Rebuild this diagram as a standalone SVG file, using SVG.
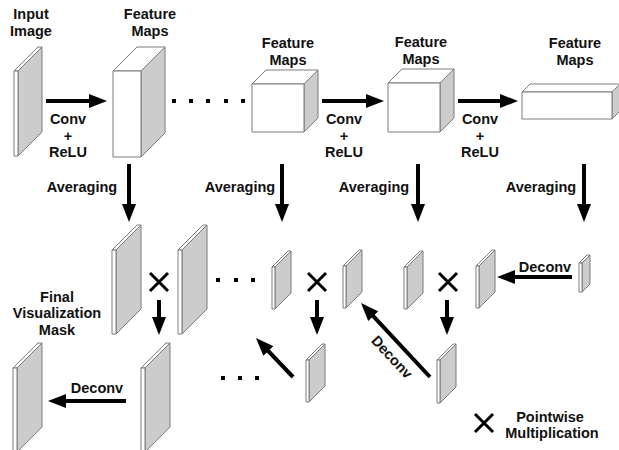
<svg xmlns="http://www.w3.org/2000/svg" width="619" height="450" viewBox="0 0 619 450">
  <style>
    .lbl { font-family: "Liberation Sans", Arial, sans-serif; font-weight: bold; font-size: 14.5px; fill: #111; text-anchor: middle; }
    .front, .top { fill: #ffffff; stroke: #7a7a7a; stroke-width: 1; stroke-linejoin: round; }
    .side { fill: #cccccc; stroke: #7a7a7a; stroke-width: 1; stroke-linejoin: round; }
    .arrow { stroke: #000; stroke-width: 4; fill: none; marker-end: url(#head); }
    .times { stroke: #000; stroke-width: 3; fill: none; }
    .dot { fill: #000; }
  </style>
  <defs>
    <marker id="head" markerUnits="userSpaceOnUse" markerWidth="18" markerHeight="14" refX="10" refY="7" orient="auto">
      <path d="M0,0 L18,7 L0,14 z" fill="#000"/>
    </marker>
  </defs>
  <rect width="619" height="450" fill="#ffffff"/>

  <!-- input image slab: front x14 w4, y71 h85, depth 24 -->
  <g id="input-image">
    <polygon class="side" points="18,71 42,47 42,132 18,156"/>
    <polygon class="top" points="14,71 38,47 42,47 18,71"/>
    <rect class="front" x="14" y="71" width="4" height="85"/>
    <text class="lbl" x="31" y="19">Input</text>
    <text class="lbl" x="31" y="36">Image</text>
  </g>

  <!-- feature map 1: front x113 w28, y71 h86, depth 24 -->
  <g id="feature-map-1">
    <polygon class="side" points="141,71 165,47 165,133 141,157"/>
    <polygon class="top" points="113,71 137,47 165,47 141,71"/>
    <rect class="front" x="113" y="71" width="28" height="86"/>
    <text class="lbl" x="150" y="19">Feature</text>
    <text class="lbl" x="150" y="36">Maps</text>
  </g>

  <!-- feature map 2: front x252 w52, y84 h48, depth 14 -->
  <g id="feature-map-2">
    <polygon class="side" points="304,84 318,70 318,118 304,132"/>
    <polygon class="top" points="252,84 266,70 318,70 304,84"/>
    <rect class="front" x="252" y="84" width="52" height="48"/>
    <text class="lbl" x="288" y="48">Feature</text>
    <text class="lbl" x="288" y="65">Maps</text>
  </g>

  <!-- feature map 3: front x388 w52, y83 h49, depth 14 -->
  <g id="feature-map-3">
    <polygon class="side" points="440,83 454,69 454,118 440,132"/>
    <polygon class="top" points="388,83 402,69 454,69 440,83"/>
    <rect class="front" x="388" y="83" width="52" height="49"/>
    <text class="lbl" x="421" y="47">Feature</text>
    <text class="lbl" x="421" y="64">Maps</text>
  </g>

  <!-- feature map 4: front x522 w90, y92 h27, depth 8 -->
  <g id="feature-map-4">
    <polygon class="side" points="612,92 620,84 620,111 612,119"/>
    <polygon class="top" points="522,92 530,84 620,84 612,92"/>
    <rect class="front" x="522" y="92" width="90" height="27"/>
    <text class="lbl" x="575" y="48">Feature</text>
    <text class="lbl" x="575" y="65">Maps</text>
  </g>

  <!-- averaged maps, middle row -->
  <g id="avg-map-a">
    <polygon class="side" points="116,250 141,225 141,309 116,334"/>
    <polygon class="top" points="112,250 137,225 141,225 116,250"/>
    <rect class="front" x="112" y="250" width="4" height="84"/>
  </g>
  <g id="upsampled-map-b">
    <polygon class="side" points="182,250 207,225 207,309 182,334"/>
    <polygon class="top" points="178,250 203,225 207,225 182,250"/>
    <rect class="front" x="178" y="250" width="4" height="84"/>
  </g>
  <g id="avg-map-c">
    <polygon class="side" points="275,267 291,251 291,293 275,309"/>
    <polygon class="top" points="272,267 288,251 291,251 275,267"/>
    <rect class="front" x="272" y="267" width="3" height="42"/>
  </g>
  <g id="upsampled-map-d">
    <polygon class="side" points="346,266 362,250 362,292 346,308"/>
    <polygon class="top" points="343,266 359,250 362,250 346,266"/>
    <rect class="front" x="343" y="266" width="3" height="42"/>
  </g>
  <g id="avg-map-e">
    <polygon class="side" points="407,267 423,251 423,293 407,309"/>
    <polygon class="top" points="404,267 420,251 423,251 407,267"/>
    <rect class="front" x="404" y="267" width="3" height="42"/>
  </g>
  <g id="upsampled-map-f">
    <polygon class="side" points="479,266 495,250 495,292 479,308"/>
    <polygon class="top" points="476,266 492,250 495,250 479,266"/>
    <rect class="front" x="476" y="266" width="3" height="42"/>
  </g>
  <g id="avg-map-g">
    <polygon class="side" points="582,263 590,255 590,284 582,292"/>
    <polygon class="top" points="579,263 587,255 590,255 582,263"/>
    <rect class="front" x="579" y="263" width="3" height="29"/>
  </g>

  <!-- product maps, lower row -->
  <g id="product-map-h">
    <polygon class="side" points="440,360 456,344 456,387 440,403"/>
    <polygon class="top" points="437,360 453,344 456,344 440,360"/>
    <rect class="front" x="437" y="360" width="3" height="43"/>
  </g>
  <g id="product-map-i">
    <polygon class="side" points="309,360 325,344 325,386 309,402"/>
    <polygon class="top" points="306,360 322,344 325,344 309,360"/>
    <rect class="front" x="306" y="360" width="3" height="42"/>
  </g>
  <g id="final-mask">
    <polygon class="side" points="17,368 42,343 42,427 17,452"/>
    <polygon class="top" points="13,368 38,343 42,343 17,368"/>
    <rect class="front" x="13" y="368" width="4" height="84"/>
    <text class="lbl" x="57" y="302">Final</text>
    <text class="lbl" x="57" y="318">Visualization</text>
    <text class="lbl" x="57" y="335">Mask</text>
  </g>
  <g id="product-map-k">
    <polygon class="side" points="145,368 170,343 170,427 145,452"/>
    <polygon class="top" points="141,368 166,343 170,343 145,368"/>
    <rect class="front" x="141" y="368" width="4" height="84"/>
  </g>

  <!-- pointwise multiplication signs -->
  <g id="multiply-1"><path class="times" d="M150,273 L168,291 M168,273 L150,291"/></g>
  <g id="multiply-2"><path class="times" d="M308,273 L326,291 M326,273 L308,291"/></g>
  <g id="multiply-3"><path class="times" d="M439,273 L457,291 M457,273 L439,291"/></g>

  <!-- ellipsis dots -->
  <g id="ellipsis-top">
    <rect class="dot" x="172" y="99" width="4" height="4"/>
    <rect class="dot" x="189" y="99" width="4" height="4"/>
    <rect class="dot" x="206" y="99" width="4" height="4"/>
    <rect class="dot" x="224" y="99" width="4" height="4"/>
    <rect class="dot" x="241" y="99" width="4" height="4"/>
  </g>
  <g id="ellipsis-middle">
    <rect class="dot" x="216" y="278" width="4" height="4"/>
    <rect class="dot" x="234" y="278" width="4" height="4"/>
    <rect class="dot" x="251" y="278" width="4" height="4"/>
  </g>
  <g id="ellipsis-bottom">
    <rect class="dot" x="221" y="376" width="4" height="4"/>
    <rect class="dot" x="238" y="376" width="4" height="4"/>
    <rect class="dot" x="255" y="376" width="4" height="4"/>
  </g>

  <!-- connectors -->
  <g id="connectors">
    <!-- conv + relu -->
    <line class="arrow" x1="46" y1="101" x2="99" y2="101"/>
    <line class="arrow" x1="322" y1="101" x2="376" y2="101"/>
    <line class="arrow" x1="458" y1="101" x2="510" y2="101"/>
    <text class="lbl" x="68" y="124">Conv</text>
    <text class="lbl" x="68" y="141">+</text>
    <text class="lbl" x="68" y="157">ReLU</text>
    <text class="lbl" x="344" y="124">Conv</text>
    <text class="lbl" x="344" y="141">+</text>
    <text class="lbl" x="344" y="157">ReLU</text>
    <text class="lbl" x="480" y="124">Conv</text>
    <text class="lbl" x="480" y="141">+</text>
    <text class="lbl" x="480" y="157">ReLU</text>

    <!-- averaging -->
    <line class="arrow" x1="129" y1="164" x2="129" y2="214"/>
    <line class="arrow" x1="282" y1="164" x2="282" y2="214"/>
    <line class="arrow" x1="418" y1="164" x2="418" y2="214"/>
    <line class="arrow" x1="584" y1="164" x2="584" y2="214"/>
    <text class="lbl" x="82" y="192">Averaging</text>
    <text class="lbl" x="240" y="192">Averaging</text>
    <text class="lbl" x="374" y="192">Averaging</text>
    <text class="lbl" x="541" y="192">Averaging</text>

    <!-- multiplication results -->
    <line class="arrow" x1="159" y1="300" x2="159" y2="327"/>
    <line class="arrow" x1="317" y1="300" x2="317" y2="327"/>
    <line class="arrow" x1="447" y1="300" x2="447" y2="327"/>

    <!-- deconvolutions -->
    <line class="arrow" x1="572" y1="277" x2="505" y2="277"/>
    <text class="lbl" x="545" y="272">Deconv</text>
    <line class="arrow" x1="430" y1="377" x2="366.5" y2="308.9"/>
    <text class="lbl" transform="translate(392,357) rotate(47)" x="0" y="5">Deconv</text>
    <line class="arrow" x1="293" y1="377" x2="261.5" y2="343.8"/>
    <line class="arrow" x1="126" y1="401" x2="56" y2="401"/>
    <text class="lbl" x="97" y="393">Deconv</text>
  </g>

  <!-- legend -->
  <g id="legend">
    <path class="times" d="M475,414 L493,432 M493,414 L475,432"/>
    <text class="lbl" x="550" y="422">Pointwise</text>
    <text class="lbl" x="552" y="438">Multiplication</text>
  </g>
</svg>
